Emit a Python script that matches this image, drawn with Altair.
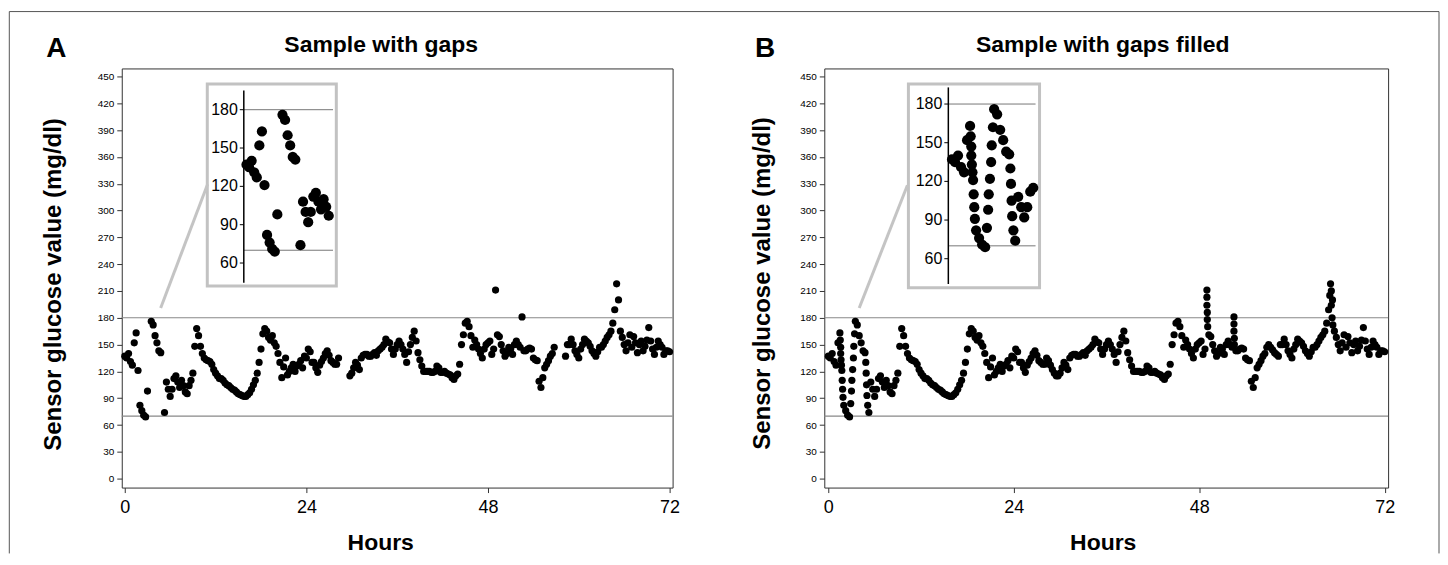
import altair as alt
import pandas as pd

FONT = "Liberation Sans"

# ---------------- data ----------------
step_hours = 0.25  # CGM readings, one row per hour (4 readings / hour); None = missing (gap)
glucose_a_rows = [
    [137, 135, 140, 131],   # 0 h
    [127, 152, 163, 121],   # 1
    [82, 76, 71, 69],       # 2
    [98, None, 176, 172],   # 3
    [160, 152, 143, 141],   # 4
    [None, 74, 108, 100],   # 5
    [92, 100, 112, 115],    # 6
    [108, 102, 110, 104],   # 7
    [97, 95, 104, 110],     # 8
    [118, 148, 168, 160],   # 9
    [148, 140, 135, 133],   # 10
    [132, 131, 128, 122],   # 11
    [118, 115, 112, 112],   # 12
    [110, 107, 105, 104],   # 13
    [102, 100, 99, 97],     # 14
    [95, 94, 93, 92],       # 15
    [92, 94, 96, 100],      # 16
    [105, 110, 118, 130],   # 17
    [145, 162, 168, 165],   # 18
    [158, 155, 160, 152],   # 19
    [148, 140, 130, 113],   # 20
    [125, 135, 116, 120],   # 21
    [124, 128, 120, 126],   # 22
    [128, 132, 124, 137],   # 23
    [135, 145, 142, 130],   # 24
    [130, 124, 119, 127],   # 25
    [131, 135, 140, 143],   # 26
    [138, 132, 130, 128],   # 27
    [128, 135, None, None], # 28
    [None, None, None, 115],# 29
    [118, 124, 130, 127],   # 30
    [122, 135, 138, 139],   # 31
    [139, 137, 137, 139],   # 32
    [141, 138, 143, 145],   # 33
    [147, 150, 156, 153],   # 34
    [152, 145, 139, 145],   # 35
    [150, 154, 150, 145],   # 36
    [139, 130, 142, 150],   # 37
    [158, 165, 154, 141],   # 38
    [133, 126, 120, 120],   # 39
    [120, 120, 119, 119],   # 40
    [120, 126, 124, 119],   # 41
    [119, 120, 118, 117],   # 42
    [116, 113, 111, 115],   # 43
    [117, 128, 150, 161],   # 44
    [174, 176, 170, 160],   # 45
    [147, 155, 150, 145],   # 46
    [140, 135, 145, 150],   # 47
    [152, 154, 139, 145],   # 48
    [211, 161, 159, 150],   # 49
    [143, 137, 140, 147],   # 50
    [145, 139, 150, 154],   # 51
    [150, 147, 181, 143],   # 52
    [143, 145, 146, 145],   # 53
    [135, 133, 132, 109],   # 54
    [102, 113, 124, 128],   # 55
    [132, 137, 140, 147],   # 56
    [None, None, None, None],  # 57
    [None, 137, 150, 150],  # 58
    [156, 150, 143, 139],   # 59
    [135, 145, 150, 156],   # 60
    [154, 152, 148, 143],   # 61
    [140, 137, 142, 147],   # 62
    [147, 150, 154, 158],   # 63
    [161, 165, 174, 189],   # 64
    [218, 200, 165, 158],   # 65
    [150, 143, 152, 161],   # 66
    [147, 159, 152, 141],   # 67
    [150, 154, 143, 148],   # 68
    [155, 169, 154, 145],   # 69
    [139, 147, 154, 150],   # 70
    [147, 139, 143, 143],   # 71
    [142],                  # 72
]

# imputed values that fill the gaps in panel B
filled_hours_b = [1.55, 1.6, 1.6, 1.65, 1.7, 1.8, 1.85, 1.9,
                  2.9, 3.05, 3.15, 3.25, 3.3, 3.4,
                  4.85, 4.9, 4.95, 5.0, 5.1,
                  28.5, 28.75, 29.0, 29.25, 29.5,
                  49.0, 49.0, 49.05, 49.05, 49.1,
                  52.5, 52.5, 52.55, 52.55,
                  57.0, 57.25, 57.5, 57.75, 58.0,
                  64.9, 65.1, 65.1, 65.2, 65.3]
filled_glucose_b = [155, 147, 140, 133, 127, 110, 100, 91,
                    84, 110, 122, 135, 148, 162,
                    130, 118, 105, 93, 82,
                    132, 127, 122, 118, 115,
                    203, 194, 186, 178, 170,
                    173, 165, 157, 150,
                    150, 147, 144, 141, 139,
                    205, 210, 194, 180, 172]

ref_levels = [180, 70]
y_ticks = [0, 30, 60, 90, 120, 150, 180, 210, 240, 270, 300, 330, 360, 390, 420, 450]
x_ticks = [0, 24, 48, 72]
inset_ticks = [60, 90, 120, 150, 180]

glucose_a = [v for row in glucose_a_rows for v in row]
hours_grid = [i * step_hours for i in range(len(glucose_a))]
rec_a = pd.DataFrame({"hours": hours_grid, "glucose": glucose_a}).dropna()
rec_b = pd.concat([rec_a, pd.DataFrame({"hours": filled_hours_b, "glucose": filled_glucose_b})],
                  ignore_index=True)

ref_df = pd.DataFrame({"level": ref_levels})
itick_df = pd.DataFrame({"tick": inset_ticks})
one = pd.DataFrame({"k": [0]})

H = 420


def make_panel(df, letter, title, g, frame=False):
    xs = alt.Scale(domain=g["xdom"], nice=False, zero=False)
    ys = alt.Scale(domain=[-10, 459], nice=False, zero=False)
    ix = alt.Scale(domain=g["ixdom"], range=g["ixrange"], nice=False, zero=False)
    iy = alt.Scale(domain=g["iydom"], range=g["iyrange"], nice=False, zero=False)

    layers = []
    if frame:
        fl, ft, fr, fb = g["frame"]
        for enc in (dict(x=alt.value(fl), y=alt.value(ft), y2=alt.value(fb)),
                    dict(x=alt.value(fl), x2=alt.value(fr), y=alt.value(ft)),
                    dict(x=alt.value(fr), y=alt.value(ft), y2=alt.value(fb))):
            layers.append(alt.Chart(one).mark_rule(color="#555", strokeWidth=1).encode(**enc))

    layers.append(alt.Chart(ref_df).mark_rule(color="#888", strokeWidth=1.2).encode(
        y=alt.Y("level:Q", scale=ys, axis=None)))

    layers.append(alt.Chart(df).mark_circle(size=52, color="black", opacity=1).encode(
        x=alt.X("hours:Q", scale=xs, axis=alt.Axis(
            values=x_ticks, orient="bottom", labelFontSize=18, tickSize=5, labelPadding=20,
            labelBaseline="alphabetic", labelFlush=False, title="Hours", titleFontSize=23,
            titleFontWeight="bold", titleX=g["xtitle_x"], titleY=62.5, titleAlign="center",
            titleBaseline="alphabetic")),
        y=alt.Y("glucose:Q", scale=ys, axis=alt.Axis(
            values=y_ticks, orient="left", labelFontSize=10, tickSize=5, labelPadding=3,
            title="Sensor glucose value (mg/dl)", titleFontSize=24, titleFontWeight="bold",
            titleAngle=270, titleX=g["ytitle_x"], titleY=g["ytitle_y"], titleAlign="center",
            titleBaseline="alphabetic"))))

    bx1, bx2, by1, by2 = g["box"]
    layers.append(alt.Chart(one).mark_rect(fill="white", stroke="#c2c2c2", strokeWidth=3).encode(
        x=alt.value(bx1), x2=alt.value(bx2), y=alt.value(by1), y2=alt.value(by2)))
    c1, c2, c3, c4 = g["callout"]
    layers.append(alt.Chart(one).mark_rule(color="#c4c4c4", strokeWidth=3).encode(
        x=alt.value(c1), y=alt.value(c2), x2=alt.value(c3), y2=alt.value(c4)))

    axx = g["axx"]
    layers.append(alt.Chart(ref_df).mark_rule(color="#777", strokeWidth=1).encode(
        y=alt.Y("level:Q", scale=iy, axis=None), x=alt.value(axx), x2=alt.value(g["iref_x2"])))
    layers.append(alt.Chart(one).mark_rule(color="black", strokeWidth=1.5).encode(
        x=alt.value(axx), y=alt.value(g["ay"][0]), y2=alt.value(g["ay"][1])))
    layers.append(alt.Chart(itick_df).mark_rule(color="black", strokeWidth=1).encode(
        y=alt.Y("tick:Q", scale=iy, axis=None), x=alt.value(axx - 4), x2=alt.value(axx)))
    layers.append(alt.Chart(itick_df).mark_text(align="right", baseline="middle", fontSize=16,
                                                font=FONT, color="black").encode(
        y=alt.Y("tick:Q", scale=iy, axis=None), x=alt.value(axx - 6), text="tick:Q"))
    layers.append(alt.Chart(df).transform_filter(alt.datum.hours <= g["ixdom"][1]).mark_circle(
        size=105, color="black", opacity=1).encode(
        x=alt.X("hours:Q", scale=ix, axis=None), y=alt.Y("glucose:Q", scale=iy, axis=None)))

    layers.append(alt.Chart(pd.DataFrame({"t": [letter]})).mark_text(
        fontSize=28, fontWeight="bold", font=FONT, align="center", baseline="alphabetic",
        color="black").encode(x=alt.value(g["letter_x"]), y=alt.value(-11), text="t:N"))
    layers.append(alt.Chart(pd.DataFrame({"t": [title]})).mark_text(
        fontSize=23, fontWeight="bold", font=FONT, align="center", baseline="alphabetic",
        color="black").encode(x=alt.value(g["title_x"]), y=alt.value(-16), text="t:N"))

    return alt.layer(*layers).resolve_scale(x="independent", y="independent").properties(
        width=g["width"], height=H)


geo_a = dict(width=552, xdom=[-0.4, 72.4], ytitle_x=-61, ytitle_y=216, xtitle_x=259,
             letter_x=-65.6, title_x=260, box=(85.7, 215, 15.7, 218), axx=122.3,
             ay=(22, 214.7), iydom=[44.6, 195.1], iyrange=[214.7, 22], ixdom=[0, 8.0],
             ixrange=[125, 207.4], iref_x2=211.7, callout=(39, 240, 86, 116),
             frame=(-112.7, -57, 1320, 486))
geo_b = dict(width=565, xdom=[-0.52, 72.45], ytitle_x=-54.5, ytitle_y=215, xtitle_x=279,
             letter_x=-59.4, title_x=279, box=(84.3, 215.7, 15.7, 219.7), axx=124.3,
             ay=(19, 216), iydom=[40.4, 192.9], iyrange=[216, 19], ixdom=[0, 6.8],
             ixrange=[128, 210], iref_x2=211.7, callout=(35, 240, 83.3, 117))

pa = make_panel(rec_a, "A", "Sample with gaps", geo_a, frame=True)
pb = make_panel(rec_b, "B", "Sample with gaps filled", geo_b)

chart = alt.hconcat(pa, pb, spacing=152, bounds="flush").properties(
    padding={"left": 0, "top": 2, "right": 0, "bottom": 0}
).configure_view(stroke="#333", strokeWidth=1).configure_axis(
    grid=False, domain=False, labelFont=FONT, titleFont=FONT, tickColor="#333",
    labelColor="black", titleColor="black")

chart.save("out.html", embed_options={"renderer": "svg", "actions": False})
